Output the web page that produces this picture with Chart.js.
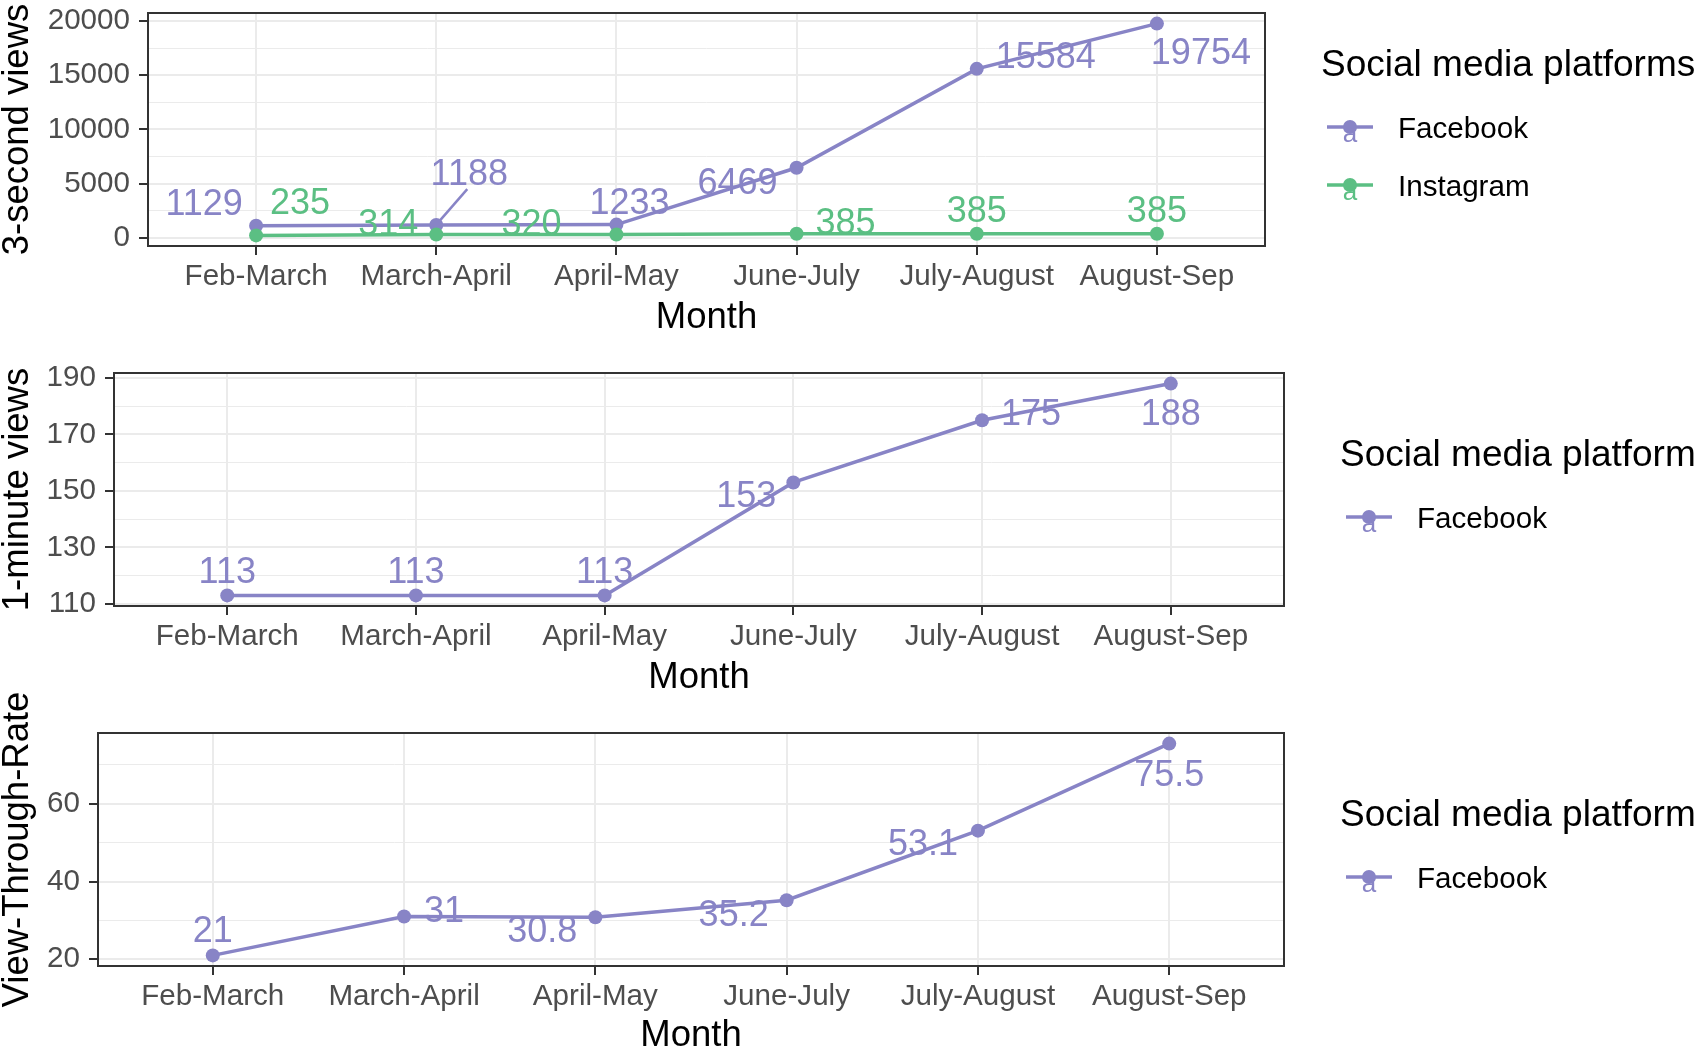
<!DOCTYPE html>
<html>
<head>
<meta charset="utf-8">
<script src="https://cdn.jsdelivr.net/npm/chart.js@4.4.0/dist/chart.umd.min.js"></script>
<style>
  html, body { margin: 0; padding: 0; background: #fff; }
  #wrap { position: relative; width: 1700px; height: 1052px; overflow: hidden; }
  #wrap canvas { position: absolute; left: 0; top: 0; }
</style>
</head>
<body>
<div id="wrap">
  <canvas id="c1" width="1700" height="1052"></canvas>
  <canvas id="c2" width="1700" height="1052"></canvas>
  <canvas id="c3" width="1700" height="1052"></canvas>
</div>
<script>
// ===== data =====
const months = ['Feb-March', 'March-April', 'April-May', 'June-July', 'July-August', 'August-Sep'];
const fbThreeSec = [1129, 1188, 1233, 6469, 15584, 19754];
const igThreeSec = [235, 314, 320, 385, 385, 385];
const fbOneMin = [113, 113, 113, 153, 175, 188];
const fbViewRate = [21, 31, 30.8, 35.2, 53.1, 75.5];
const ticksThreeSec = [0, 5000, 10000, 15000, 20000];
const ticksOneMin = [110, 130, 150, 170, 190];
const ticksViewRate = [20, 40, 60];

const FONT = "'Liberation Sans', Arial, Helvetica, sans-serif";
const FB = '#8884c6';
const IG = '#5bbf83';
const TEXT_NUDGE = 3; // canvas 'middle' sits a bit high vs the ggplot text

// ggplot-like 5% expansion of the y range
function rangeOf(...series) {
    const all = series.flat();
    const lo = Math.min(...all), hi = Math.max(...all);
    const d = (hi - lo) * 0.05;
    return [lo - d, hi + d];
}

// majors + minor (half step) breaks inside the range
function gridTicks(majors, lo, hi) {
    const step = (majors[1] - majors[0]) / 2;
    const out = [];
    for (let v = majors[0] - step; v <= majors[majors.length - 1] + step + 1e-9; v += step) {
        if (v >= lo && v <= hi) out.push(v);
    }
    return out;
}

// ===== plugin: panel border, repel-style labels, legend =====
const panelDecor = {
    id: 'panelDecor',
    afterDatasetsDraw(chart, args, opts) {
        const { ctx, chartArea: a } = chart;
        ctx.save();
        ctx.strokeStyle = '#333333';
        ctx.lineWidth = 2;
        ctx.strokeRect(a.left, a.top, a.width, a.height);

        chart.data.datasets.forEach((ds, di) => {
            const meta = chart.getDatasetMeta(di);
            const offs = opts.offsets[di];
            ctx.font = `36px ${FONT}`;
            ctx.fillStyle = ds.borderColor;
            ctx.strokeStyle = ds.borderColor;
            ctx.textAlign = 'center';
            ctx.textBaseline = 'middle';
            meta.data.forEach((pt, i) => {
                const [dx, dy, seg] = offs[i];
                if (seg) {
                    ctx.lineWidth = 2.5;
                    ctx.beginPath();
                    ctx.moveTo(pt.x + 4, pt.y - 5);
                    ctx.lineTo(pt.x + dx - 2, pt.y + dy + 17);
                    ctx.stroke();
                }
                ctx.fillText(String(ds.data[i].y), pt.x + dx, pt.y + dy + TEXT_NUDGE);
            });
        });
        ctx.restore();
    },
    afterDraw(chart, args, opts) {
        const { ctx } = chart;
        const lg = opts.legend;
        ctx.save();
        ctx.textAlign = 'left';
        ctx.textBaseline = 'middle';
        ctx.fillStyle = '#000';
        ctx.font = `37px ${FONT}`;
        ctx.fillText(lg.title, lg.x, lg.titleY + TEXT_NUDGE);
        chart.data.datasets.forEach((ds, i) => {
            const y = lg.itemY[i];
            const cx = lg.x + 29;
            ctx.strokeStyle = ds.borderColor;
            ctx.fillStyle = ds.borderColor;
            ctx.lineWidth = 3.5;
            ctx.beginPath();
            ctx.moveTo(lg.x + 6, y);
            ctx.lineTo(lg.x + 52, y);
            ctx.stroke();
            ctx.beginPath();
            ctx.arc(cx, y, 7, 0, Math.PI * 2);
            ctx.fill();
            ctx.font = `26px ${FONT}`;
            ctx.textAlign = 'center';
            ctx.fillText('a', cx, y + 8);
            ctx.textAlign = 'left';
            ctx.fillStyle = '#000';
            ctx.font = `29.6px ${FONT}`;
            ctx.fillText(ds.label, lg.x + 77, y + TEXT_NUDGE);
        });
        ctx.restore();
    }
};

function makePanel(id, cfg) {
    const [ymin, ymax] = cfg.yRange;
    const majors = cfg.majors;
    const allTicks = gridTicks(majors, ymin, ymax);
    const isMajor = v => majors.some(m => Math.abs(m - v) < 1e-9);

    return new Chart(document.getElementById(id), {
        type: 'line',
        data: {
            datasets: cfg.series.map((s, k) => ({
                label: s.label,
                data: s.values.map((v, i) => ({ x: i, y: v })),
                borderColor: s.color,
                backgroundColor: s.color,
                borderWidth: 3.5,
                pointRadius: 7,
                pointBorderWidth: 0,
                pointHoverRadius: 7,
                tension: 0,
                order: cfg.series.length - k
            }))
        },
        options: {
            responsive: false,
            animation: false,
            devicePixelRatio: 1,
            layout: { padding: cfg.padding },
            plugins: {
                legend: { display: false },
                tooltip: { enabled: false },
                panelDecor: { offsets: cfg.offsets, legend: cfg.legend }
            },
            scales: {
                x: {
                    type: 'linear',
                    position: 'bottom',
                    min: -0.6,
                    max: months.length - 0.4,
                    afterBuildTicks: s => { s.ticks = months.map((_, i) => ({ value: i })); },
                    afterFit: s => {
                        s.height = cfg.xh;
                        s.paddingLeft = 0; s.paddingRight = 0; s.paddingTop = 0; s.paddingBottom = 0;
                    },
                    grid: { color: '#ebebeb', lineWidth: 2, tickColor: '#333333', tickLength: 9, tickWidth: 2 },
                    border: { display: false },
                    ticks: {
                        autoSkip: false, maxRotation: 0, minRotation: 0, padding: 4,
                        color: '#4d4d4d', font: { family: FONT, size: 29.6 },
                        callback: v => months[v]
                    },
                    title: {
                        display: true, text: 'Month', color: '#000',
                        font: { family: FONT, size: 36.5, lineHeight: 1 },
                        padding: { top: 0, bottom: cfg.monthPad }
                    }
                },
                y: {
                    type: 'linear',
                    min: ymin,
                    max: ymax,
                    afterBuildTicks: s => { s.ticks = allTicks.map(v => ({ value: v })); },
                    afterFit: s => {
                        s.width = cfg.padding.yw;
                        s.paddingLeft = 0; s.paddingRight = 0; s.paddingTop = 0; s.paddingBottom = 0;
                    },
                    grid: {
                        color: '#ebebeb',
                        lineWidth: c => (isMajor(c.tick.value) ? 2 : 1),
                        tickColor: c => (isMajor(c.tick.value) ? '#333333' : 'rgba(0,0,0,0)'),
                        tickLength: 9,
                        tickWidth: 2
                    },
                    border: { display: false },
                    ticks: {
                        autoSkip: false, padding: 9,
                        color: '#4d4d4d', font: { family: FONT, size: 29.6 },
                        callback: v => (isMajor(v) ? String(v) : '')
                    },
                    title: {
                        display: true, text: cfg.yTitle, color: '#000',
                        font: { family: FONT, size: 36.5, lineHeight: 1 },
                        padding: { top: 0, bottom: 0 }
                    }
                }
            }
        },
        plugins: [panelDecor]
    });
}

// ===== panel 1: 3-second views =====
makePanel('c1', {
    series: [
        { label: 'Facebook', values: fbThreeSec, color: FB },
        { label: 'Instagram', values: igThreeSec, color: IG }
    ],
    yRange: rangeOf(fbThreeSec, igThreeSec),
    majors: ticksThreeSec,
    yTitle: '3-second views',
    padding: { left: 0, top: 13, right: 1700 - 1265, bottom: 1052 - 340, yw: 148 },
    xh: 94,
    monthPad: 3.5,
    offsets: [
        [[-52, -24], [33, -53, true], [13, -24], [-59, 13], [69, -14], [44, 27]],
        [[44, -34], [-48, -12], [-85, -12], [49, -13], [0, -25], [0, -25]]
    ],
    legend: { title: 'Social media platforms', x: 1321, titleY: 63, itemY: [127, 185] }
});

// ===== panel 2: 1-minute views =====
makePanel('c2', {
    series: [{ label: 'Facebook', values: fbOneMin, color: FB }],
    yRange: rangeOf(fbOneMin),
    majors: ticksOneMin,
    yTitle: '1-minute views',
    padding: { left: 0, top: 373, right: 1700 - 1284, bottom: 1052 - 699, yw: 114 },
    xh: 93,
    monthPad: 2.5,
    offsets: [
        [[0, -25], [0, -25], [0, -25], [-47, 12], [49, -8], [0, 28]]
    ],
    legend: { title: 'Social media platform', x: 1340, titleY: 453, itemY: [517] }
});

// ===== panel 3: view-through-rate =====
makePanel('c3', {
    series: [{ label: 'Facebook', values: fbViewRate, color: FB }],
    yRange: rangeOf(fbViewRate),
    majors: ticksViewRate,
    yTitle: 'View-Through-Rate',
    padding: { left: 0, top: 733, right: 1700 - 1284, bottom: 0, yw: 98 },
    xh: 86,
    monthPad: -2.5,
    offsets: [
        [[0, -26], [40, -7], [-53, 12], [-53, 13], [-55, 11], [0, 29]]
    ],
    legend: { title: 'Social media platform', x: 1340, titleY: 813, itemY: [877] }
});
</script>
</body>
</html>
